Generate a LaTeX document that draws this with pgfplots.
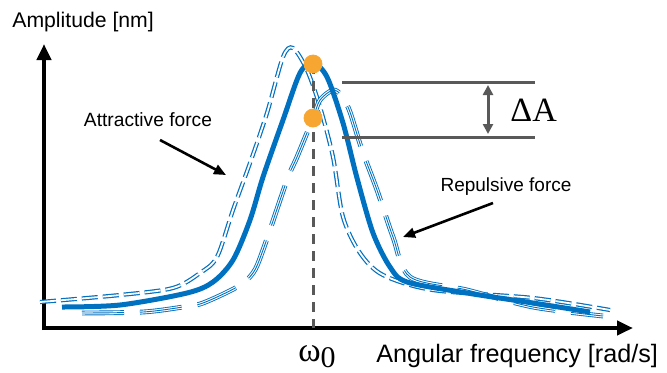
\documentclass[border=0pt]{standalone}
\usepackage{fontspec}
\setmainfont{Liberation Sans}
\newfontfamily\seriffont{Liberation Serif}
\usepackage{pgfplots}
\pgfplotsset{compat=1.18}
\usetikzlibrary{arrows.meta}

\definecolor{curveblue}{RGB}{0,112,192}
\definecolor{guidegrey}{RGB}{89,89,89}
\definecolor{dotorange}{RGB}{247,166,50}

\begin{document}
\begin{tikzpicture}
\begin{axis}[
  x=0.5pt, y=0.5pt,
  xmin=-42, xmax=625, ymin=-46, ymax=326,
  hide axis, clip=false,
]
\coordinate (frameSW) at (axis cs:-42,-46);
\coordinate (frameNE) at (axis cs:625,326);

% axes with arrow heads
\draw[line width=2pt, -{Triangle[length=8pt,width=7pt]}] (axis cs:2,-4) -- (axis cs:2,282);
\draw[line width=2pt, -{Triangle[length=8pt,width=7pt]}] (axis cs:1,-2) -- (axis cs:591,-2);

% attractive force (double dashed)
\addplot[draw=curveblue, line width=0.6pt, double=white, double distance=0.9pt,
  dash pattern=on 8pt off 2.5pt, smooth, tension=0.5] coordinates {
  (-2,24) (78,31) (131,38) (158,53) (175,69) (191,116) (208,163) (225,213)
  (241,269) (251,278) (265,256) (278,219) (291,169) (301,109) (318,73)
  (341,51) (391,36) (491,28) (568,16)};

% repulsive force (triple long dashes)
\addplot[draw=curveblue, line width=0.45pt, double=white, double distance=1.5pt,
  dash pattern=on 21pt off 8pt, smooth, tension=0.5] coordinates {
  (40,13) (101,14) (141,19) (161,23) (195,39) (211,53) (221,76) (245,146)
  (255,169) (271,208) (278,226) (291,236) (300,230) (308,214) (320,176)
  (335,136) (351,89) (368,49) (425,36) (491,19) (561,10)};
\addplot[draw=curveblue, line width=0.45pt,
  dash pattern=on 21pt off 8pt, smooth, tension=0.5] coordinates {
  (40,13) (101,14) (141,19) (161,23) (195,39) (211,53) (221,76) (245,146)
  (255,169) (271,208) (278,226) (291,236) (300,230) (308,214) (320,176)
  (335,136) (351,89) (368,49) (425,36) (491,19) (561,10)};

% free resonance
\addplot[draw=curveblue, line width=2.5pt, smooth, tension=0.5] coordinates {
  (20,19) (78,21) (145,33) (171,44) (191,66) (208,106) (221,149) (241,206)
  (258,253) (271,263) (285,249) (301,203) (315,148) (331,93) (348,59)
  (365,44) (425,33) (491,23) (548,14)};

% resonance frequency marker
\draw[guidegrey, line width=1.5pt, dash pattern=on 5pt off 3.5pt] (axis cs:271,262) -- (axis cs:271,-2);

% amplitude difference
\draw[guidegrey, line width=1.5pt] (axis cs:300,244) -- (axis cs:493,244);
\draw[guidegrey, line width=1.5pt] (axis cs:300,189) -- (axis cs:493,189);
\draw[guidegrey, line width=1.5pt, {Triangle[length=5pt,width=5pt]}-{Triangle[length=5pt,width=5pt]}]
  (axis cs:446,241) -- (axis cs:446,192);
\node[anchor=west, inner sep=0pt] at (axis cs:468,216) {\seriffont\fontsize{17}{19}\selectfont ΔA};

% peak amplitudes
\addplot[only marks, mark=*, mark size=4.5pt, mark options={fill=dotorange, draw=dotorange}]
  coordinates {(271,262) (271,208)};

% labels
\node[anchor=west, inner sep=0pt] at (axis cs:-30,304) {\fontsize{10.6}{12}\selectfont Amplitude [nm]};
\node[anchor=west, inner sep=0pt] at (axis cs:334,-30) {\fontsize{12.6}{14}\selectfont Angular frequency [rad/s]};
\node[inner sep=0pt] at (axis cs:275,-31) {\seriffont\fontsize{17}{19}\selectfont ω\raisebox{-3pt}{\fontsize{15}{17}\selectfont 0}};

\node[inner sep=0pt] at (axis cs:106,206) {\fontsize{9.6}{11}\selectfont Attractive force};
\draw[line width=1.3pt, -{Triangle[length=6pt,width=5pt]}] (axis cs:118,186) -- (axis cs:184,151);
\node[inner sep=0pt] at (axis cs:464,139) {\fontsize{9.5}{11}\selectfont Repulsive force};
\draw[line width=1.3pt, -{Triangle[length=6pt,width=5pt]}] (axis cs:451,123) -- (axis cs:361,89);
\end{axis}
\pgfresetboundingbox
\path[use as bounding box] (frameSW) rectangle (frameNE);
\end{tikzpicture}
\end{document}
